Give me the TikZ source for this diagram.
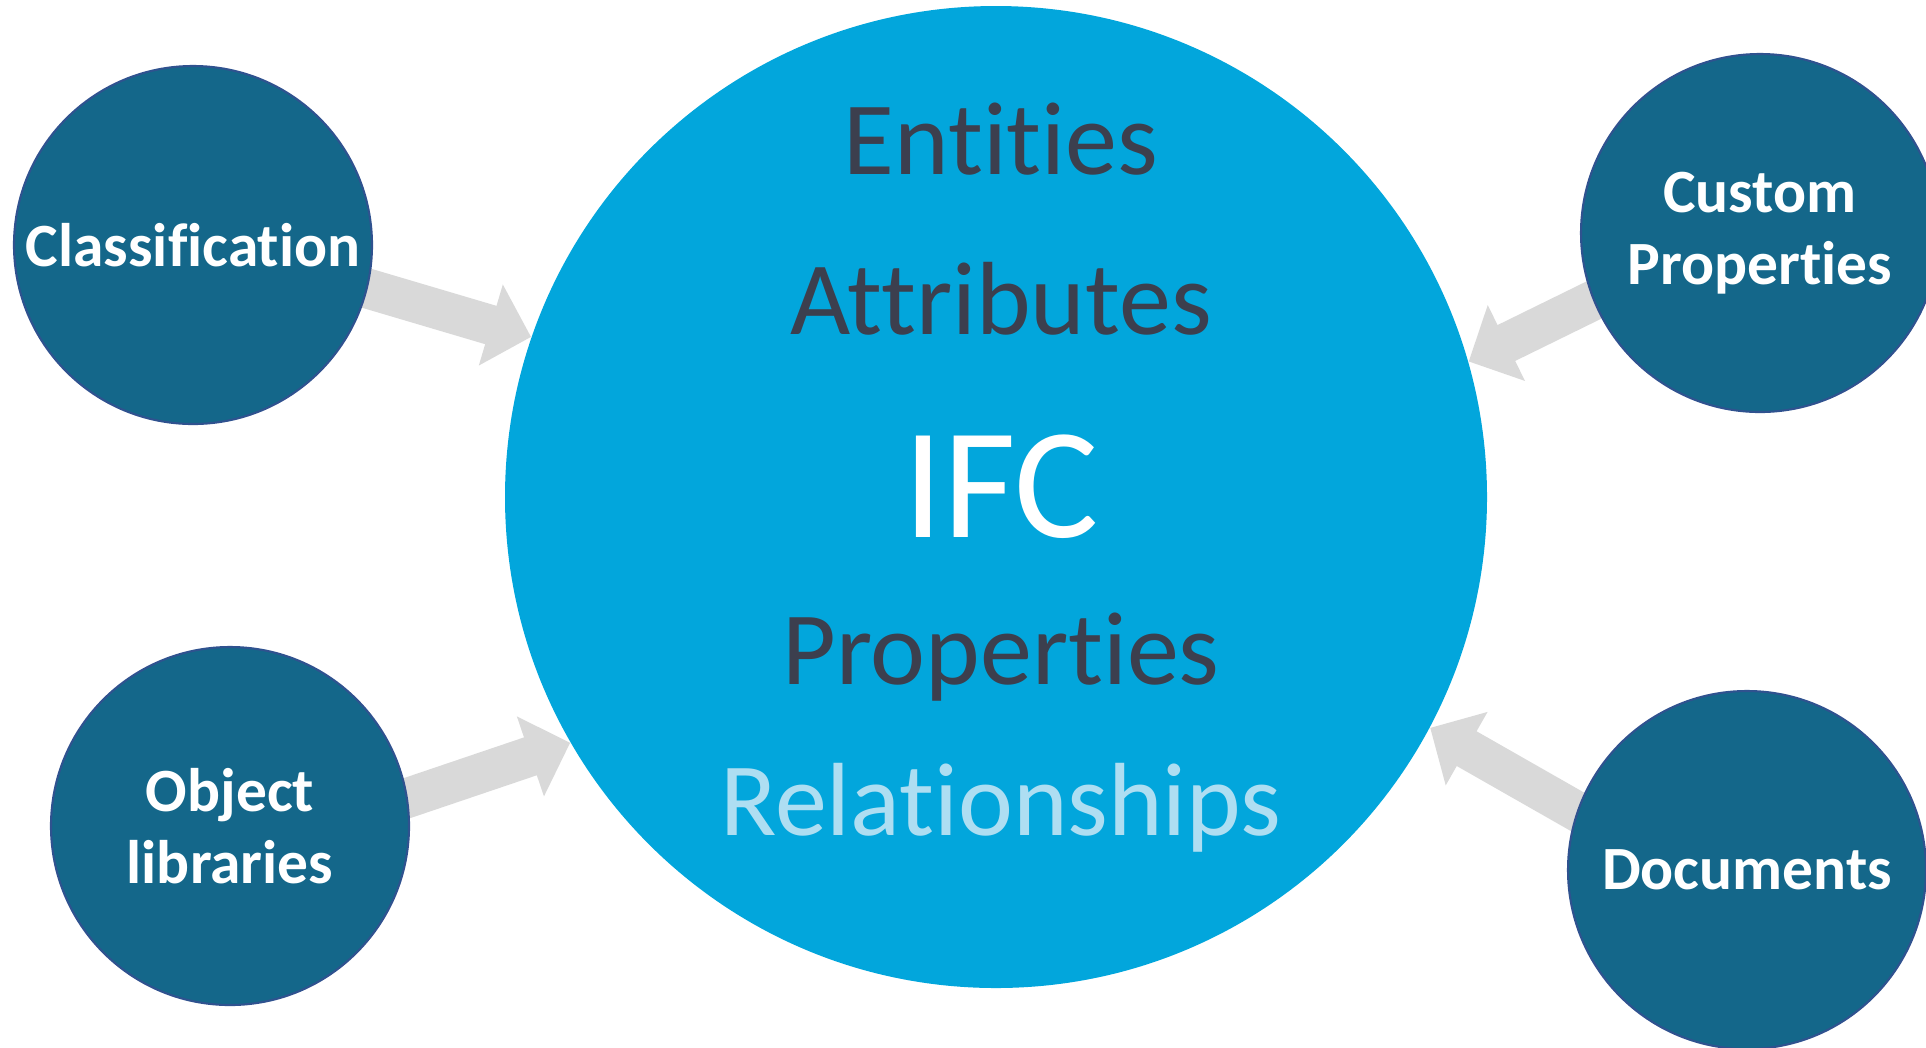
\documentclass[tikz,border=0pt]{standalone}
\usepackage{fontspec}
\setmainfont{Carlito}[Ligatures={NoCommon,NoContextual}]
\usetikzlibrary{arrows.meta,calc,backgrounds}
\definecolor{ifcblue}{RGB}{2,166,220}
\definecolor{bubblefill}{RGB}{20,103,138}
\definecolor{bubbleline}{RGB}{47,82,143}
\definecolor{inktext}{RGB}{60,63,78}
\definecolor{relblue}{RGB}{174,222,242}
\definecolor{feedgray}{RGB}{217,217,217}
\tikzset{
	bubble/.style={circle, fill=bubblefill, draw=bubbleline, line width=0.6pt, minimum size=3.58cm, inner sep=0pt, text=white, align=center, font=\bfseries\fontsize{17.5}{20.5}\selectfont},
	term/.style={anchor=base, inner sep=0pt, text=inktext, font=\fontsize{29.6}{36}\selectfont},
	feed/.style={draw=feedgray, line width=0.4cm, -{Triangle[length=0.42cm,width=0.82cm]}},
}

\begin{document}
\begin{tikzpicture}
		%%%%% START %%%%%
		\useasboundingbox (0,0) rectangle (19.26,-10.47);
		
		\node[circle, fill=ifcblue, minimum size=9.82cm, inner sep=0pt] (ifc) at (9.96,-4.97) {};
		
		\node[term] (entities) at (10.01,-1.74) {Entities};
		\node[term] (attributes) at (10.01,-3.34) {Attributes};
		\node[term, text=white, font=\fontsize{45}{50}\selectfont] (ifctext) at (10.01,-5.37) {IFC};
		\node[term] (properties) at (10.01,-6.84) {Properties};
		\node[term, text=relblue] (relations) at (10.01,-8.35) {Relationships};
		
		\node[bubble] (classif) at (1.93,-2.45) {Classification};
		\node[bubble] (objlib) at (2.30,-8.26) {Object\\libraries};
		\node[bubble] (custom) at (17.60,-2.33) {Custom\\Properties};
		\node[bubble] (docs) at (17.47,-8.70) {Documents};
		
		\begin{scope}[on background layer]
			\draw[feed] ($(classif.-14)!-0.3cm!(ifc.161)$) -- (ifc.161);
			\draw[feed] ($(objlib.9)!-0.3cm!(ifc.210)$) -- (ifc.210);
			\draw[feed] ($(custom.202)!-0.3cm!(ifc.16)$) -- (ifc.16);
			\draw[feed] ($(docs.161)!-0.3cm!(ifc.-28)$) -- (ifc.-28);
		\end{scope}
		
		%%%%% END %%%%%
\end{tikzpicture}
\end{document}
